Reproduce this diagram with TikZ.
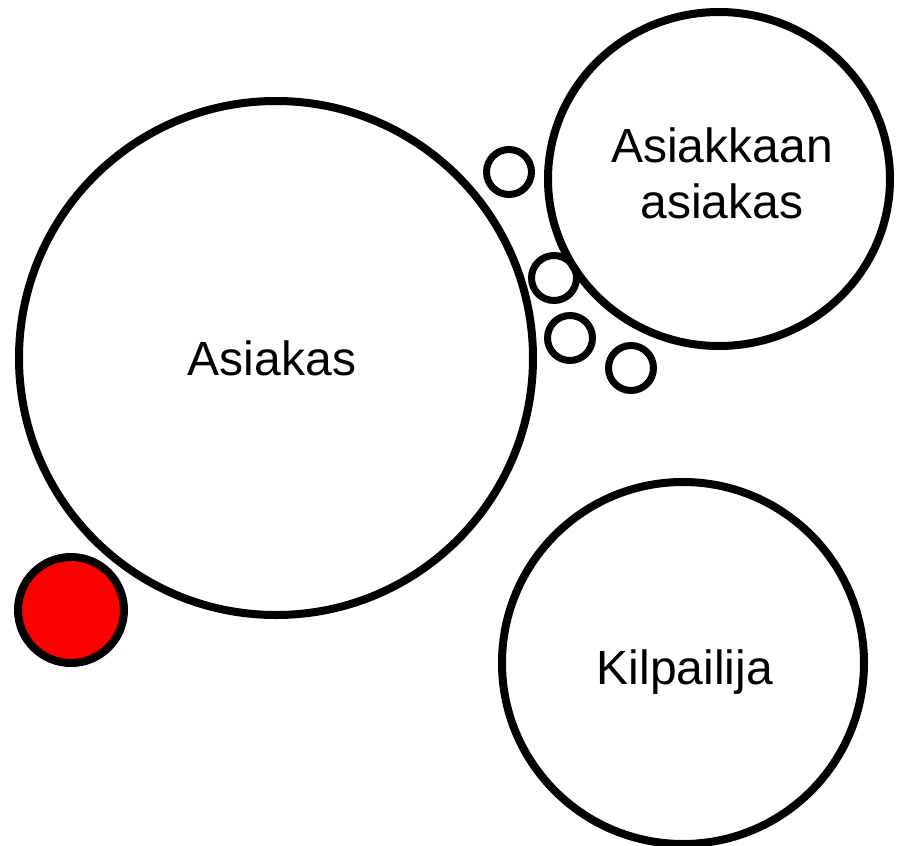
\documentclass[tikz,border=0pt]{standalone}
\usepackage{fontspec}
\setmainfont{Liberation Sans}
\usetikzlibrary{shapes.geometric}

\begin{document}
\begin{tikzpicture}[x=1pt, y=-1pt,
    group/.style={circle, draw, line width=8pt},
    grouptext/.style={align=center, font=\fontsize{48}{56}\selectfont},
    member/.style={circle, draw, line width=7pt, minimum size=45pt, inner sep=0pt},
    lost/.style={circle, draw, line width=8pt, fill=red, minimum size=106pt, inner sep=0pt}]
    \useasboundingbox (0,0) rectangle (898,846);

    % groups
    \node [group, minimum size=514pt] (customer) at (276,358) {};
    \node [group, ellipse, minimum width=342pt, minimum height=334pt] (custcust) at (719,179) {};
    \node [group, minimum size=362pt] (rival) at (683,663) {};
    \node [grouptext, xshift=-4pt] (customertext) at (customer) {Asiakas};
    \node [grouptext, xshift=3pt, yshift=6pt] (custcusttext) at (custcust) {Asiakkaan\\asiakas};
    \node [grouptext, xshift=2pt, yshift=-9pt] (rivaltext) at (rival) {Kilpailija};

    % single members
    \node [lost] (lost1) at (71,610) {};
    \node [member] (m1) at (509,172) {};
    \node [member] (m2) at (554,278) {};
    \node [member] (m3) at (570,338) {};
    \node [member] (m4) at (631,368) {};
\end{tikzpicture}
\end{document}
